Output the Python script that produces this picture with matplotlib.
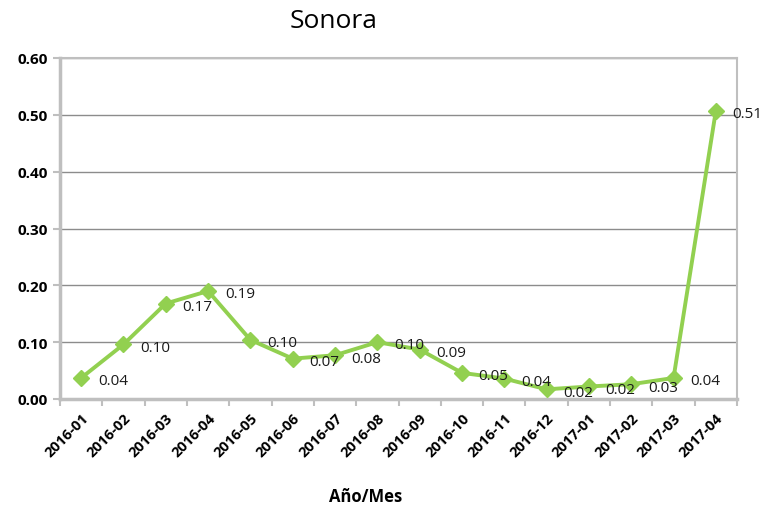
import matplotlib.pyplot as plt
import numpy as np

plt.switch_backend('agg')

# Datos
meses = ['2016-01', '2016-02', '2016-03', '2016-04', '2016-05', '2016-06',
         '2016-07', '2016-08', '2016-09', '2016-10', '2016-11', '2016-12',
         '2017-01', '2017-02', '2017-03', '2017-04']
valores = [0.037, 0.096, 0.168, 0.190, 0.104, 0.071, 0.077, 0.100,
           0.087, 0.046, 0.036, 0.017, 0.022, 0.026, 0.037, 0.507]
y_ticks = [0.0, 0.1, 0.2, 0.3, 0.4, 0.5, 0.6]

plt.rcParams['font.family'] = ['Open Sans', 'DejaVu Sans']

verde = '#92D050'
gris_borde = '#BFBFBF'
gris_grid = '#8C8C8C'

fig = plt.figure(figsize=(7.64, 5.10), dpi=100)
ax = fig.add_axes([60 / 764, 110 / 510, 677 / 764, 341 / 510])

x = np.arange(len(meses))
ax.plot(x, valores, color=verde, lw=2.8, marker='D', markersize=8,
        markeredgecolor=verde, zorder=3)

for xi, v in zip(x, valores):
    ax.annotate(f'{v:.2f}', (xi, v), xytext=(12, -2), textcoords='offset points',
                ha='left', va='center', fontsize=11, color='#1a1a1a', zorder=4)

ax.set_xlim(-0.5, len(meses) - 0.5)
ax.set_ylim(0, 0.6)
ax.set_yticks(y_ticks)
ax.set_yticklabels([f'{t:.2f}' for t in y_ticks], fontsize=11, fontweight='bold')
ax.yaxis.grid(True, color=gris_grid, lw=1)
ax.set_axisbelow(True)

ax.set_xticks(x)
ax.set_xticklabels(meses, rotation=45, ha='right', rotation_mode='anchor',
                   fontsize=10.5, fontweight='bold')
ax.tick_params(axis='x', length=0, pad=8)
ax.set_xticks(np.arange(-0.5, len(meses)), minor=True)
ax.tick_params(axis='x', which='minor', length=5, color=gris_borde, width=1.5)
ax.tick_params(axis='y', length=5, color=gris_borde, width=1.5, pad=4)

for lado in ['top', 'right']:
    ax.spines[lado].set_color(gris_borde)
    ax.spines[lado].set_linewidth(1.5)
for lado in ['left', 'bottom']:
    ax.spines[lado].set_color(gris_borde)
    ax.spines[lado].set_linewidth(2.5)

fig.text(334 / 764, 1 - 22 / 510, 'Sonora', ha='center', va='center', fontsize=19)
fig.text(366 / 764, 1 - 497 / 510, 'Año/Mes', ha='center', va='center',
         fontsize=12, fontweight='bold')

plt.savefig('out.png', dpi=100)
plt.close()
